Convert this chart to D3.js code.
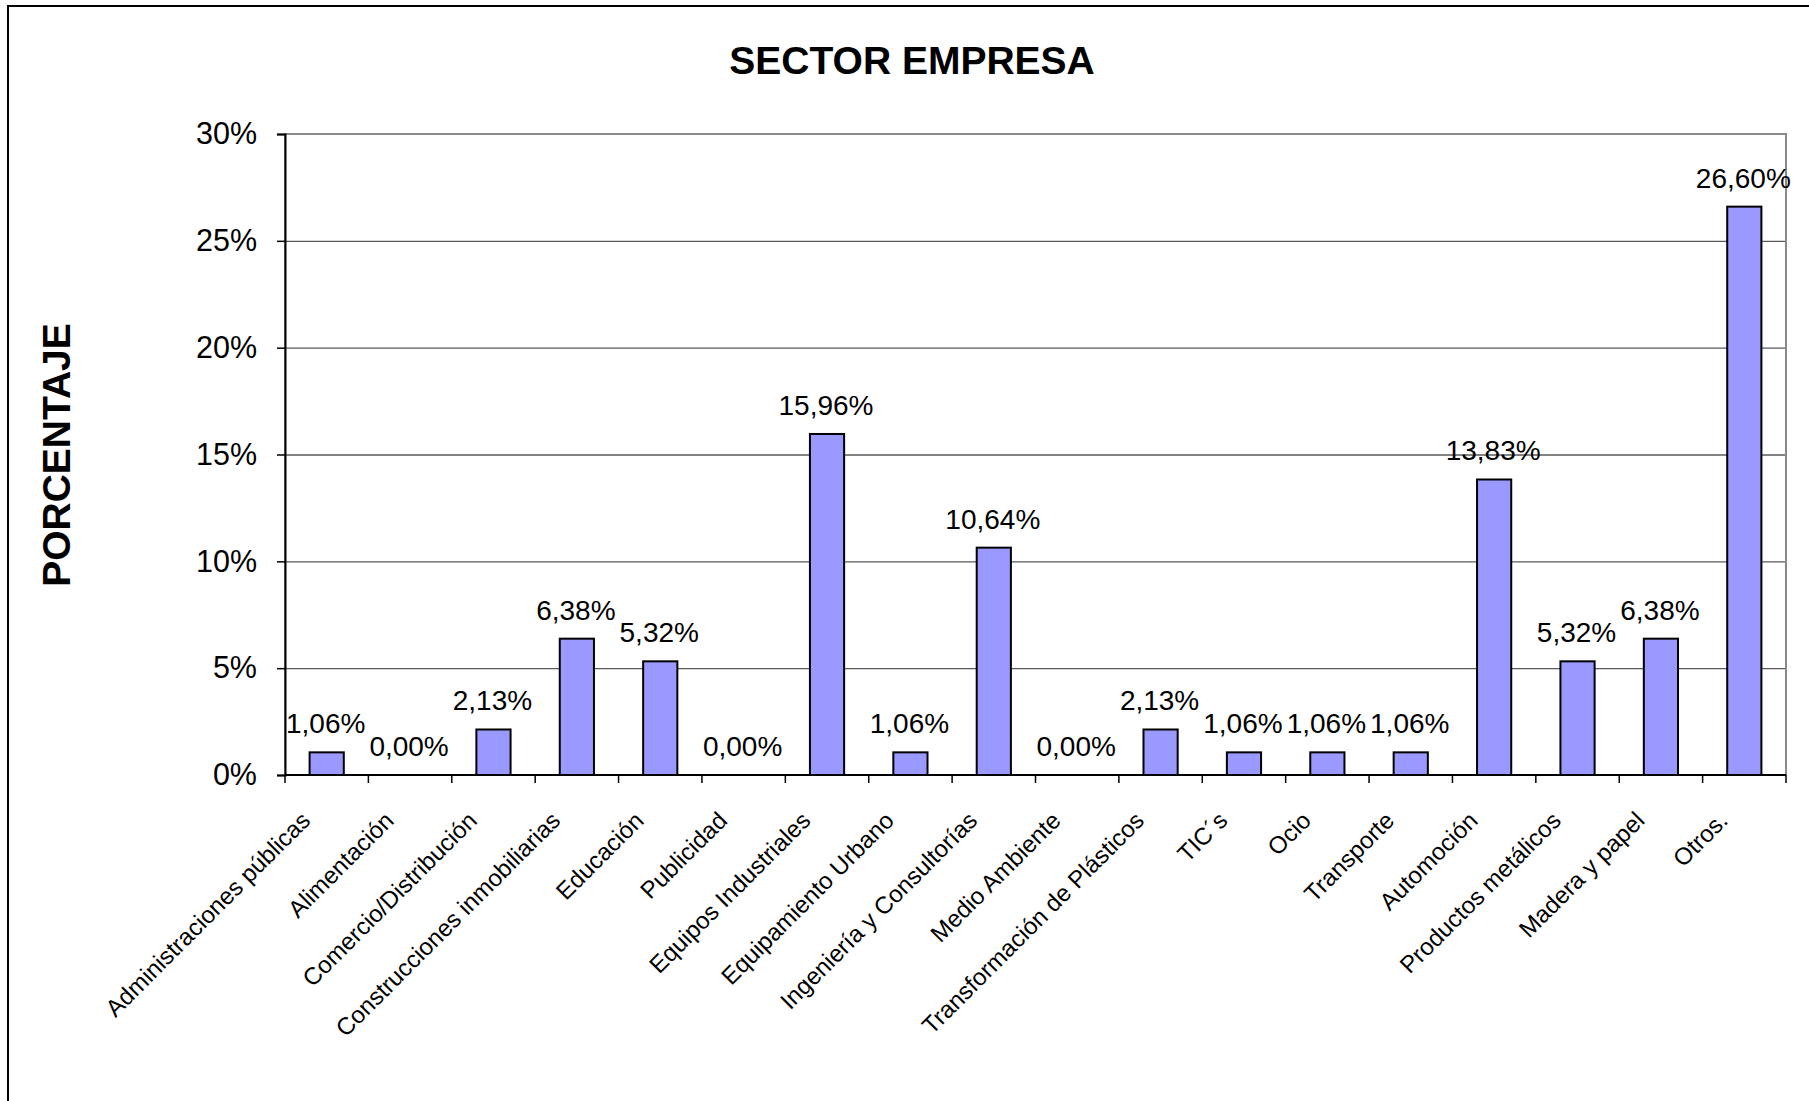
<!DOCTYPE html>
<html>
<head>
<meta charset="utf-8">
<script src="https://cdn.jsdelivr.net/npm/d3@7"></script>
<style>
  html, body { margin: 0; padding: 0; background: #fff; }
  svg { display: block; font-family: "Liberation Sans", Arial, sans-serif; }
</style>
</head>
<body>
<svg id="chart" width="1809" height="1101"></svg>
<script>
// Sector breakdown, percentage of companies
const categories = [
  "Administraciones públicas", "Alimentación", "Comercio/Distribución",
  "Construcciones inmobiliarias", "Educación", "Publicidad",
  "Equipos Industriales", "Equipamiento Urbano", "Ingeniería y Consultorías",
  "Medio Ambiente", "Transformación de Plásticos", "TIC´s", "Ocio",
  "Transporte", "Automoción", "Productos metálicos", "Madera y papel", "Otros."
];
const values = [
  1.06, 0.00, 2.13, 6.38, 5.32, 0.00, 15.96, 1.06, 10.64,
  0.00, 2.13, 1.06, 1.06, 1.06, 13.83, 5.32, 6.38, 26.60
];
const yTicks = [0, 5, 10, 15, 20, 25, 30];
const chartTitle = "SECTOR EMPRESA";
const yTitle = "PORCENTAJE";

const svg = d3.select("#chart");
const plot = { left: 285, right: 1786, top: 134, bottom: 775 };

// Outer chart frame (runs past the right and bottom edges of the page)
svg.append("rect")
  .attr("x", 8).attr("y", 6)
  .attr("width", 1830).attr("height", 1120)
  .attr("fill", "none").attr("stroke", "#000").attr("stroke-width", 2);

const x = d3.scaleBand().domain(categories)
  .range([plot.left, plot.right]).padding(0);
const y = d3.scaleLinear().domain([0, 30])
  .range([plot.bottom, plot.top]);

// Horizontal gridlines
svg.append("g")
  .attr("transform", `translate(${plot.left},0)`)
  .call(d3.axisLeft(y).tickValues(yTicks.slice(1, -1))
    .tickSize(-(plot.right - plot.left)).tickFormat(""))
  .call(g => g.select(".domain").remove())
  .call(g => g.selectAll("line").attr("stroke", "#5a5a5a").attr("stroke-width", 1.4));

// Plot area border
svg.append("rect")
  .attr("x", plot.left).attr("y", plot.top)
  .attr("width", plot.right - plot.left).attr("height", plot.bottom - plot.top)
  .attr("fill", "none").attr("stroke", "#8a8a8a").attr("stroke-width", 2);

// Y axis with percentage ticks
svg.append("g")
  .attr("transform", `translate(${plot.left},0)`)
  .call(d3.axisLeft(y).tickValues(yTicks).tickSize(8).tickPadding(20)
    .tickFormat(d => d + "%"))
  .call(g => g.select(".domain").attr("stroke", "#000").attr("stroke-width", 2))
  .call(g => g.selectAll("line").attr("stroke", "#000").attr("stroke-width", 1.5))
  .call(g => g.selectAll("text")
    .attr("font-size", 30.5).attr("fill", "#000")
    .attr("font-family", "'Liberation Sans', Arial, sans-serif"));

// X axis baseline and category boundary ticks
const bounds = categories.map(c => x(c)).concat([x(categories[categories.length - 1]) + x.bandwidth()]);
svg.append("line")
  .attr("x1", plot.left).attr("x2", plot.right)
  .attr("y1", plot.bottom).attr("y2", plot.bottom)
  .attr("stroke", "#000").attr("stroke-width", 2);
svg.append("g").selectAll("line").data(bounds).join("line")
  .attr("x1", d => d).attr("x2", d => d)
  .attr("y1", plot.bottom).attr("y2", plot.bottom + 8)
  .attr("stroke", "#000").attr("stroke-width", 1.5);

// Bars
const barW = x.bandwidth() * 0.41;
const data = categories.map((c, i) => ({ cat: c, val: values[i] }));
svg.append("g").selectAll("rect").data(data).join("rect")
  .attr("x", d => x(d.cat) + (x.bandwidth() - barW) / 2)
  .attr("y", d => y(d.val))
  .attr("width", barW)
  .attr("height", d => y(0) - y(d.val))
  .attr("fill", "#9999ff")
  .attr("stroke", d => d.val > 0 ? "#000" : "none")
  .attr("stroke-width", 2);

// Value labels above the bars
svg.append("g").selectAll("text").data(data).join("text")
  .attr("x", d => x(d.cat) + x.bandwidth() / 2 - 1)
  .attr("y", d => y(d.val) - 19)
  .attr("text-anchor", "middle")
  .attr("font-size", 28)
  .attr("fill", "#000")
  .text(d => d.val.toFixed(2).replace(".", ",") + "%");

// Rotated category labels
svg.append("g").selectAll("text").data(categories).join("text")
  .attr("transform", d => `translate(${x(d) + x.bandwidth() / 2 - 15},${plot.bottom + 47}) rotate(-45)`)
  .attr("text-anchor", "end")
  .attr("font-size", 24)
  .attr("fill", "#000")
  .text(d => d);

// Chart title
svg.append("text")
  .attr("x", 912).attr("y", 74)
  .attr("text-anchor", "middle")
  .attr("font-size", 39).attr("font-weight", "bold")
  .text(chartTitle);

// Y axis title
svg.append("text")
  .attr("transform", "translate(70,455) rotate(-90)")
  .attr("text-anchor", "middle")
  .attr("font-size", 39).attr("font-weight", "bold")
  .text(yTitle);
</script>
</body>
</html>
